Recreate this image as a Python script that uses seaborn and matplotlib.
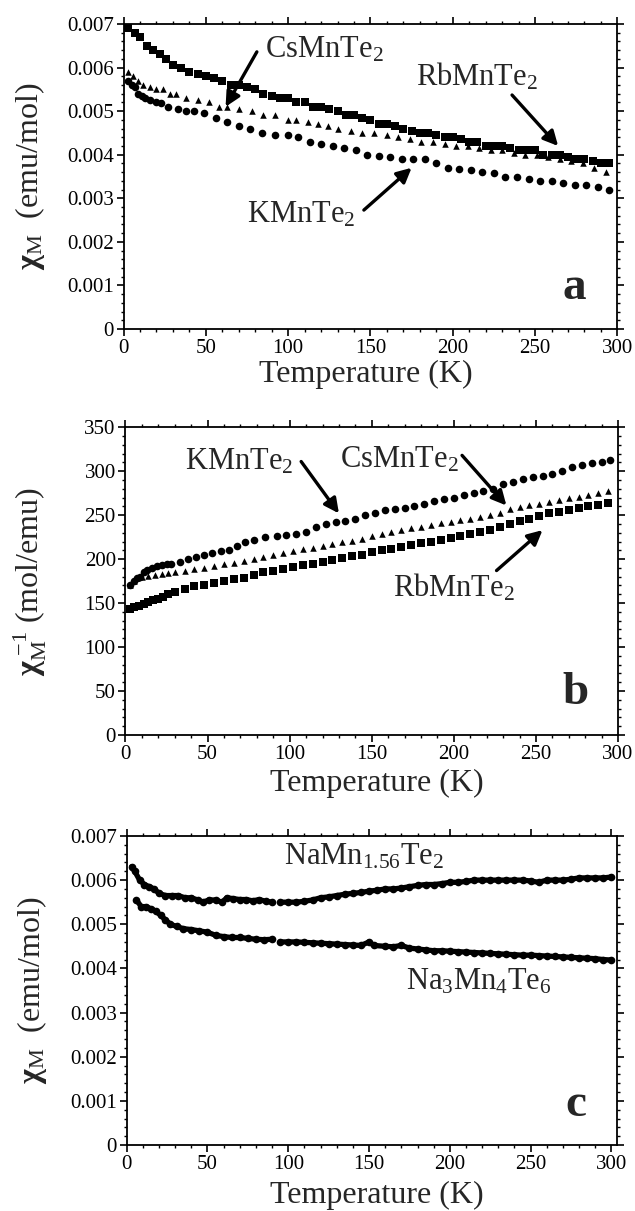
import numpy as np
import pandas as pd
import matplotlib
matplotlib.use("Agg")
import matplotlib.pyplot as plt
from matplotlib.ticker import AutoMinorLocator
import seaborn as sns

# --- Panel a: chi_M vs T (emu/mol) ---
a_rb_T = [3, 7, 10, 14, 18, 22, 26, 30, 35, 40, 45, 50, 55, 60, 65, 70, 75, 80, 85, 90, 95, 100,
          105, 110, 115, 120, 125, 130, 135, 140, 145, 150, 155, 160, 165, 170, 175, 180, 185, 190,
          195, 200, 205, 210, 215, 220, 225, 230, 235, 240, 245, 250, 255, 260, 265, 270, 275, 280,
          285, 290, 295]
a_rb_chi = [.0069, .0068, .0067, .0065, .0064, .0063, .0062, .00605, .0060, .0059, .00585, .0058,
            .00575, .0057, .0056, .0056, .00555, .0055, .0054, .00535, .0053, .0053, .0052, .0052,
            .0051, .0051, .00505, .0050, .0049, .0049, .00485, .0048, .0047, .0047, .00465, .0046,
            .00455, .0045, .0045, .00445, .0044, .0044, .00435, .0043, .0043, .0042, .0042, .0042,
            .00415, .0041, .0041, .0041, .0040, .0040, .0040, .00395, .0039, .0039, .00385, .0038,
            .0038]
a_cs_T = [3, 6, 9, 12, 16, 20, 24, 28, 32, 38, 45, 52, 58, 63, 70, 78, 85, 92, 100, 105, 112, 118,
          124, 130, 138, 145, 152, 160, 167, 174, 181, 188, 195, 202, 209, 216, 223, 230, 237, 244,
          251, 258, 265, 272, 279, 286, 293]
a_cs_chi = [.0059, .0058, .0057, .0056, .00555, .0055, .0055, .0054, .0054, .0053, .00525, .0052,
            .0051, .0051, .00505, .0050, .0049, .0049, .0048, .0048, .00475, .0047, .00465, .0046,
            .00455, .0045, .0045, .00445, .0044, .00435, .0043, .0043, .00425, .0042, .0042, .00415,
            .0041, .0041, .00405, .0040, .0040, .00395, .0039, .00385, .0038, .0037, .0036]
a_k_T = [3, 5, 7, 9, 11, 13, 16, 20, 23, 27, 33, 38, 43, 49, 56, 63, 70, 77, 84, 92, 100, 106, 113,
         120, 127, 134, 141, 148, 155, 162, 169, 176, 183, 190, 197, 204, 211, 218, 225, 232, 239,
         246, 253, 260, 267, 274, 281, 288, 295]
a_k_chi = [.0057, .0056, .00555, .0054, .00535, .0053, .00525, .0052, .00518, .0051, .00505, .0050,
           .0050, .00495, .00485, .00475, .00465, .0046, .0045, .00445, .00445, .0044, .0043, .00425,
           .0042, .00415, .0041, .0040, .00398, .00395, .0039, .0039, .0039, .0038, .0037, .00368,
           .00365, .0036, .00358, .0035, .0035, .00345, .0034, .0034, .00335, .0033, .0033, .00325,
           .0032]

# --- Panel b: 1/chi_M vs T (mol/emu) ---
b_k_T = [3, 5, 7, 9, 11, 13, 16, 19, 22, 25, 28, 33, 38, 43, 48, 53, 58, 63, 68, 73, 78, 85, 92, 98,
         104, 110, 116, 122, 128, 134, 140, 146, 152, 158, 164, 170, 176, 182, 188, 194, 200, 206,
         212, 218, 224, 230, 236, 242, 248, 254, 260, 266, 272, 278, 284, 290, 295]
b_k_inv = [170, 175, 178, 180, 185, 188, 190, 192, 193, 194, 195, 197, 200, 202, 205, 207, 209, 210,
           215, 219, 222, 225, 226, 227, 229, 231, 237, 240, 242, 243, 246, 250, 253, 256, 257, 258,
           260, 263, 266, 268, 270, 273, 275, 277, 280, 285, 288, 291, 293, 295, 297, 300, 305, 307,
           309, 310, 313]
b_cs_T = [3, 5, 7, 10, 14, 18, 22, 26, 30, 36, 42, 48, 54, 60, 66, 72, 78, 84, 90, 96, 102, 108, 114,
          120, 126, 132, 138, 144, 150, 156, 162, 168, 174, 180, 186, 192, 198, 204, 210, 216, 222,
          228, 234, 240, 246, 252, 258, 264, 270, 276, 282, 288, 294]
b_cs_inv = [170, 175, 178, 180, 181, 182, 183, 184, 185, 187, 189, 190, 192, 194, 196, 198, 200, 202,
            205, 207, 209, 211, 213, 215, 217, 219, 221, 223, 226, 229, 231, 233, 235, 237, 239, 241,
            242, 244, 246, 248, 250, 253, 257, 259, 261, 263, 265, 267, 269, 271, 273, 275, 277]
b_rb_T = [3, 5, 8, 11, 14, 17, 20, 23, 26, 30, 36, 42, 48, 54, 60, 66, 72, 78, 84, 90, 96, 102, 108,
          114, 120, 126, 132, 138, 144, 150, 156, 162, 168, 174, 180, 186, 192, 198, 204, 210, 216,
          222, 228, 234, 240, 246, 252, 258, 264, 270, 276, 282, 288, 294]
b_rb_inv = [143, 145, 147, 149, 151, 153, 155, 157, 160, 163, 166, 169, 171, 173, 175, 177, 179, 182,
            185, 187, 189, 191, 193, 195, 197, 199, 201, 203, 205, 208, 210, 212, 214, 216, 218, 220,
            222, 224, 226, 229, 231, 233, 236, 240, 243, 246, 249, 252, 254, 256, 258, 260, 262, 264]

# --- Panel c: chi_M vs T (emu/mol) ---
c_na_T = [3, 5, 8, 11, 14, 17, 20, 24, 28, 32, 36, 40, 44, 47, 51, 55, 59, 62, 66, 70, 74, 78, 82,
          86, 90, 95, 100, 105, 110, 115, 120, 125, 130, 135, 140, 145, 150, 155, 160, 165, 170, 175,
          180, 185, 190, 195, 200, 205, 210, 215, 220, 225, 230, 235, 240, 245, 250, 255, 260, 265,
          270, 275, 280, 285, 290, 295, 300]
c_na_chi = [.0063, .0062, .0060, .0059, .00585, .0058, .0057, .00565, .00565, .00565, .0056, .0056,
            .00555, .0055, .00555, .00555, .0055, .0056, .00558, .00556, .00556, .00553, .00556,
            .00552, .0055, .0055, .0055, .0055, .00552, .00555, .0056, .00562, .00565, .00568,
            .0057, .00572, .00575, .00577, .0058, .0058, .00582, .00585, .00588, .0059, .0059,
            .00592, .00595, .00595, .00597, .006, .006, .006, .006, .006, .006, .006, .00598,
            .00595, .006, .006, .006, .00602, .00605, .00605, .00605, .00605, .00607]
c_na3_T = [6, 9, 12, 15, 18, 21, 24, 27, 31, 35, 40, 45, 50, 55, 60, 65, 70, 75, 80, 85, 90, 95, 100,
           105, 110, 115, 120, 125, 130, 135, 140, 145, 150, 153, 160, 165, 170, 175, 180, 185, 190,
           195, 200, 205, 210, 215, 220, 225, 230, 235, 240, 245, 250, 255, 260, 265, 270, 275, 280,
           285, 290, 295, 300]
c_na3_chi = [.00555, .0054, .0054, .00535, .0053, .0052, .0051, .0050, .00495, .0049, .00488, .00485,
             .00482, .00475, .00472, .0047, .0047, .00468, .00466, .00465, .00466, .0046, .0046,
             .0046, .00459, .00458, .00457, .00456, .00455, .00454, .00453, .00452, .0046, .00452,
             .0045, .00449, .00452, .00446, .00444, .00442, .0044, .0044, .00439, .00438, .00437,
             .00436, .00435, .00434, .00433, .00432, .00431, .0043, .0043, .00429, .00428, .00427,
             .00426, .00425, .00424, .00423, .00422, .0042, .00419]

chi_ticks = [0, 0.001, 0.002, 0.003, 0.004, 0.005, 0.006, 0.007]
chi_ticklabels = ["0", "0.001", "0.002", "0.003", "0.004", "0.005", "0.006", "0.007"]
inv_ticks = [0, 50, 100, 150, 200, 250, 300, 350]
t_ticks = [0, 50, 100, 150, 200, 250, 300]

sns.set_style("ticks")
plt.rcParams["font.family"] = ["Liberation Serif", "DejaVu Serif"]
plt.rcParams["mathtext.fontset"] = "custom"
plt.rcParams["mathtext.rm"] = "Liberation Serif"
plt.rcParams["mathtext.it"] = "Liberation Serif:italic"
plt.rcParams["mathtext.bf"] = "Liberation Serif:bold"

fig = plt.figure(figsize=(6.35, 12.11), dpi=100)
ax_a = fig.add_axes([0.1945, 0.7283, 0.7778, 0.2519])
ax_b = fig.add_axes([0.1976, 0.3931, 0.7757, 0.2541])
ax_c = fig.add_axes([0.1995, 0.0545, 0.7728, 0.2552])

LBL = 23     # axis titles
NAME = 22    # compound names
TICK = 15


def style_axes(ax, xmax, ymax, yticks, ylabels):
    ax.set_xlim(0, xmax)
    ax.set_ylim(0, ymax)
    ax.set_xticks(t_ticks)
    ax.set_xticklabels([str(t) for t in t_ticks], fontsize=TICK)
    ax.set_yticks(yticks)
    ax.set_yticklabels(ylabels, fontsize=TICK)
    ax.xaxis.set_minor_locator(AutoMinorLocator(5))
    ax.yaxis.set_minor_locator(AutoMinorLocator(5))
    ax.tick_params(which="major", direction="out", length=5, width=1.2, pad=2, colors="black")
    ax.tick_params(which="minor", direction="out", length=2.5, width=1, colors="black")
    ax.tick_params(which="both", top=True, right=True)
    for sp in ax.spines.values():
        sp.set_visible(True)
        sp.set_linewidth(1.3)
        sp.set_color("black")


def arrow(ax, tail, head):
    ax.annotate("", xy=head, xytext=tail,
                arrowprops=dict(arrowstyle="-|>", lw=2.4, color="black", mutation_scale=22,
                                shrinkA=0, shrinkB=0))


# ---- Panel a ----
sns.scatterplot(x=a_rb_T, y=a_rb_chi, marker="s", color="black", s=30, linewidth=0, ax=ax_a)
sns.scatterplot(x=a_cs_T, y=a_cs_chi, marker="^", color="black", s=22, linewidth=0, ax=ax_a)
sns.scatterplot(x=a_k_T, y=a_k_chi, marker="o", color="black", s=30, linewidth=0, ax=ax_a)
style_axes(ax_a, 300, 0.007, chi_ticks, chi_ticklabels)
ax_a.set_xlabel("Temperature (K)", fontsize=LBL)
ax_a.xaxis.set_label_coords(0.49, -0.1)
ax_a.set_ylabel(r"$\mathbf{\chi}_{\mathrm{M}}$  (emu/mol)", fontsize=LBL)
ax_a.yaxis.set_label_coords(-0.155, 0.5)
ax_a.text(122, 0.0064, r"CsMnTe$_{\mathrm{2}}$", fontsize=NAME, ha="center", va="center")
arrow(ax_a, (81, 0.00636), (62, 0.0051))
ax_a.text(215, 0.00578, r"RbMnTe$_{\mathrm{2}}$", fontsize=NAME, ha="center", va="center")
arrow(ax_a, (236, 0.00537), (264, 0.0042))
ax_a.text(108, 0.00262, r"KMnTe$_{\mathrm{2}}$", fontsize=NAME, ha="center", va="center")
arrow(ax_a, (146, 0.00273), (175, 0.0037))
ax_a.text(274, 0.00094, "a", fontsize=34, fontweight="bold", ha="center", va="center")

# ---- Panel b ----
sns.scatterplot(x=b_k_T, y=b_k_inv, marker="o", color="black", s=30, linewidth=0, ax=ax_b)
sns.scatterplot(x=b_cs_T, y=b_cs_inv, marker="^", color="black", s=22, linewidth=0, ax=ax_b)
sns.scatterplot(x=b_rb_T, y=b_rb_inv, marker="s", color="black", s=30, linewidth=0, ax=ax_b)
style_axes(ax_b, 300, 350, inv_ticks, [str(v) for v in inv_ticks])
ax_b.set_xlabel("Temperature (K)", fontsize=LBL)
ax_b.xaxis.set_label_coords(0.51, -0.11)
ax_b.set_ylabel(r"$\mathbf{\chi}_{\mathrm{M}}^{\ \mathrm{-1}}$ (mol/emu)", fontsize=LBL)
ax_b.yaxis.set_label_coords(-0.155, 0.5)
ax_b.text(69, 311, r"KMnTe$_{\mathrm{2}}$", fontsize=NAME, ha="center", va="center")
arrow(ax_b, (107, 311), (130, 252))
ax_b.text(167, 313, r"CsMnTe$_{\mathrm{2}}$", fontsize=NAME, ha="center", va="center")
arrow(ax_b, (205, 318), (232, 261))
ax_b.text(200, 168, r"RbMnTe$_{\mathrm{2}}$", fontsize=NAME, ha="center", va="center")
arrow(ax_b, (226, 187), (254, 233))
ax_b.text(274, 48, "b", fontsize=34, fontweight="bold", ha="center", va="center")

# ---- Panel c ----
for T, chi in [(c_na_T, c_na_chi), (c_na3_T, c_na3_chi)]:
    T = np.array(T)
    chi = np.array(chi)
    for mask in [T < 92, T > 92]:
        sns.lineplot(x=T[mask], y=chi[mask], color="black", lw=3.8, marker="o", markersize=5.5,
                     markeredgewidth=0, sort=False, estimator=None, ax=ax_c)
style_axes(ax_c, 303.7, 0.007, chi_ticks, chi_ticklabels)
ax_c.set_xlabel("Temperature (K)", fontsize=LBL)
ax_c.xaxis.set_label_coords(0.509, -0.115)
ax_c.set_ylabel(r"$\mathbf{\chi}_{\mathrm{M}}$  (emu/mol)", fontsize=LBL)
ax_c.yaxis.set_label_coords(-0.158, 0.5)
ax_c.text(147, 0.00652, r"NaMn$_{\mathrm{1.56}}$Te$_{\mathrm{2}}$", fontsize=NAME, ha="center",
          va="center")
ax_c.text(218, 0.00369, r"Na$_{\mathrm{3}}$Mn$_{\mathrm{4}}$Te$_{\mathrm{6}}$", fontsize=NAME,
          ha="center", va="center")
ax_c.text(278, 0.0009, "c", fontsize=34, fontweight="bold", ha="center", va="center")

fig.savefig("out.png", dpi=100)
